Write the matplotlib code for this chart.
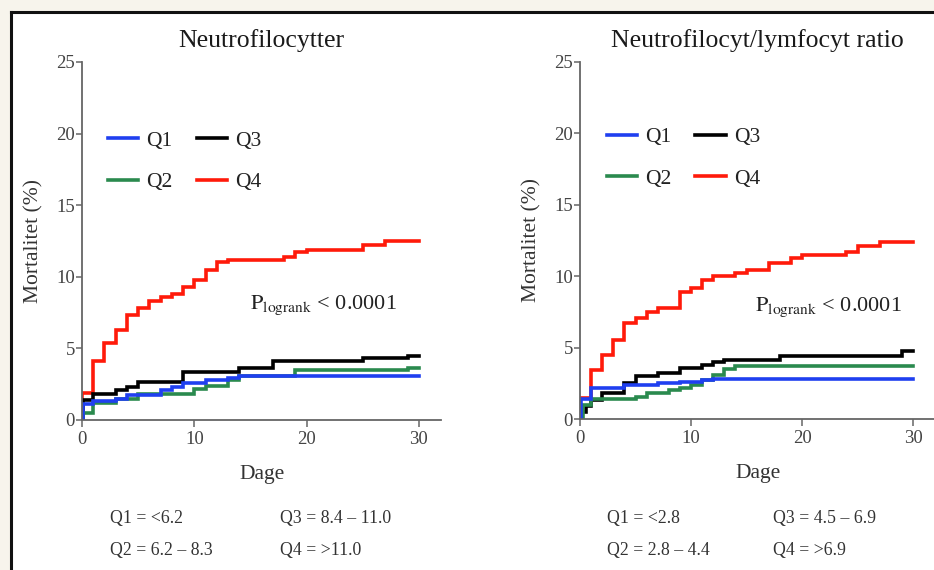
import matplotlib
matplotlib.use('Agg')
import matplotlib.pyplot as plt
from matplotlib.lines import Line2D
from matplotlib.patches import Rectangle

plt.rcParams['font.family'] = ['Liberation Serif', 'DejaVu Serif']
plt.rcParams['mathtext.fontset'] = 'stix'

# Neutrofilocytter (kvartiler)
n_q1_t = [0, 0.05, 1, 3, 4, 7, 8, 9, 11, 13, 14, 30]
n_q1_y = [0, 1.1, 1.3, 1.45, 1.75, 2.1, 2.3, 2.55, 2.8, 2.95, 3.05, 3.05]
n_q2_t = [0, 0.1, 1, 3, 5, 10, 11, 13, 14, 19, 29, 30]
n_q2_y = [0, 0.5, 1.2, 1.5, 1.85, 2.15, 2.4, 2.8, 3.1, 3.5, 3.65, 3.65]
n_q3_t = [0, 0.1, 1, 3, 4, 5, 9, 14, 17, 25, 29, 30]
n_q3_y = [0, 1.4, 1.85, 2.1, 2.3, 2.65, 3.35, 3.65, 4.1, 4.35, 4.5, 4.5]
n_q4_t = [0, 0.02, 1, 2, 3, 4, 5, 6, 7, 8, 9, 10, 11, 12, 13, 18, 19, 20, 25, 27, 30]
n_q4_y = [0, 1.9, 4.1, 5.4, 6.3, 7.3, 7.8, 8.3, 8.6, 8.8, 9.3, 9.8, 10.5, 11.0, 11.2,
          11.4, 11.7, 11.9, 12.2, 12.5, 12.5]

# Neutrofilocyt/lymfocyt ratio
r_q1_t = [0, 0.1, 1, 4, 7, 9, 11, 12, 30]
r_q1_y = [0, 1.4, 2.2, 2.4, 2.5, 2.6, 2.75, 2.8, 2.8]
r_q2_t = [0, 0.3, 1, 5, 6, 8, 9, 10, 11, 12, 13, 14, 30]
r_q2_y = [0, 1.0, 1.4, 1.55, 1.8, 2.0, 2.2, 2.4, 2.7, 3.1, 3.5, 3.7, 3.7]
r_q3_t = [0, 0.1, 0.5, 1, 2, 4, 5, 7, 9, 11, 12, 13, 18, 29, 30]
r_q3_y = [0, 0.5, 0.9, 1.3, 1.8, 2.5, 3.0, 3.2, 3.55, 3.8, 4.0, 4.15, 4.4, 4.75, 4.75]
r_q4_t = [0, 0.02, 1, 2, 3, 4, 5, 6, 7, 9, 10, 11, 12, 14, 15, 17, 19, 20, 24, 25, 27, 30]
r_q4_y = [0, 1.45, 3.4, 4.5, 5.5, 6.7, 7.1, 7.5, 7.75, 8.9, 9.2, 9.75, 10.0, 10.2, 10.4,
          10.9, 11.3, 11.5, 11.7, 12.1, 12.4, 12.4]

labels = ['Q1', 'Q2', 'Q3', 'Q4']
colors = ['#1f3ff0', '#2a8a4e', '#000000', '#ff1a0a']
titles = ['Neutrofilocytter', 'Neutrofilocyt/lymfocyt ratio']
cutoffs_left = ['Q1 = <6.2', 'Q2 = 6.2 \u2013 8.3', 'Q3 = 8.4 \u2013 11.0', 'Q4 = >11.0']
cutoffs_right = ['Q1 = <2.8', 'Q2 = 2.8 \u2013 4.4', 'Q3 = 4.5 \u2013 6.9', 'Q4 = >6.9']

panels = [
    [(n_q1_t, n_q1_y), (n_q2_t, n_q2_y), (n_q3_t, n_q3_y), (n_q4_t, n_q4_y)],
    [(r_q1_t, r_q1_y), (r_q2_t, r_q2_y), (r_q3_t, r_q3_y), (r_q4_t, r_q4_y)],
]

fig = plt.figure(figsize=(9.34, 5.70), dpi=100)
fig.patch.set_facecolor('white')

# cream background outside the frame
fig.add_artist(Rectangle((0, 1 - 12 / 570), 1, 12 / 570, transform=fig.transFigure,
                         color='#f7f4ec', zorder=0))
fig.add_artist(Rectangle((0, 0), 11 / 934, 1, transform=fig.transFigure,
                         color='#f7f4ec', zorder=0))
fig.add_artist(Line2D([11 / 934, 11 / 934], [0, 1 - 12 / 570], transform=fig.transFigure,
                      color='#111111', lw=2.2))
fig.add_artist(Line2D([11 / 934, 1], [1 - 12 / 570, 1 - 12 / 570], transform=fig.transFigure,
                      color='#111111', lw=2.2))

axes_rects = [[82 / 934, 1 - 420 / 570, 359.4 / 934, 358 / 570],
              [580 / 934, 1 - 419 / 570, 355.2 / 934, 357 / 570]]
p_pos = [(15.0, 8.0), (15.8, 7.8)]
leg_anchor = [(0.042, 0.838), (0.045, 0.848)]

for i, ax_rect in enumerate(axes_rects):
    ax = fig.add_axes(ax_rect)
    handles = []
    for k in [3, 2, 1, 0]:
        t, y = panels[i][k]
        h, = ax.step(t, y, where='post', color=colors[k], lw=2.6, label=labels[k],
                     solid_joinstyle='miter')
        handles.append(h)
    handles = handles[::-1]
    ax.set_xlim(0, 32)
    ax.set_ylim(0, 25)
    ax.set_xticks([0, 10, 20, 30])
    ax.set_yticks([0, 5, 10, 15, 20, 25])
    for s in ['top', 'right']:
        ax.spines[s].set_visible(False)
    for s in ['left', 'bottom']:
        ax.spines[s].set_color('#666666')
        ax.spines[s].set_linewidth(1.3)
    ax.tick_params(colors='#666666', labelcolor='#444444', labelsize=13.5, length=4,
                   width=1.1, pad=1)
    ax.tick_params(axis='x', length=5, pad=3)
    ax.set_ylabel('Mortalitet (%)', fontsize=15.5, color='#333333', labelpad=9)
    ax.set_xlabel('Dage', fontsize=15.5, color='#333333', labelpad=12)
    ax.set_title(titles[i], fontsize=18.5, color='#1a1a1a', pad=11)
    ax.patch.set_alpha(0)
    leg = ax.legend(handles=handles, labels=labels, ncol=2, loc='upper left',
                    bbox_to_anchor=leg_anchor[i], frameon=False, fontsize=15.5,
                    handlelength=1.4, handletextpad=0.4, columnspacing=1.1,
                    labelspacing=1.0, borderpad=0)
    for txt in leg.get_texts():
        txt.set_color('#222222')
    ax.text(p_pos[i][0], p_pos[i][1], r'$\mathrm{P_{logrank}}$ < 0.0001', fontsize=16,
            color='#222222', va='center')

# kvartil-grænser under graferne
cut_x = [(110, 280), (607, 773)]
for i, cuts in enumerate([cutoffs_left, cutoffs_right]):
    xa, xb = cut_x[i]
    fig.text(xa / 934, 1 - 518 / 570, cuts[0], fontsize=12.8, color='#333333', va='center')
    fig.text(xa / 934, 1 - 551 / 570, cuts[1], fontsize=12.8, color='#333333', va='center')
    fig.text(xb / 934, 1 - 519 / 570, cuts[2], fontsize=12.8, color='#333333', va='center')
    fig.text(xb / 934, 1 - 551 / 570, cuts[3], fontsize=12.8, color='#333333', va='center')

plt.savefig('out.png', dpi=100)
